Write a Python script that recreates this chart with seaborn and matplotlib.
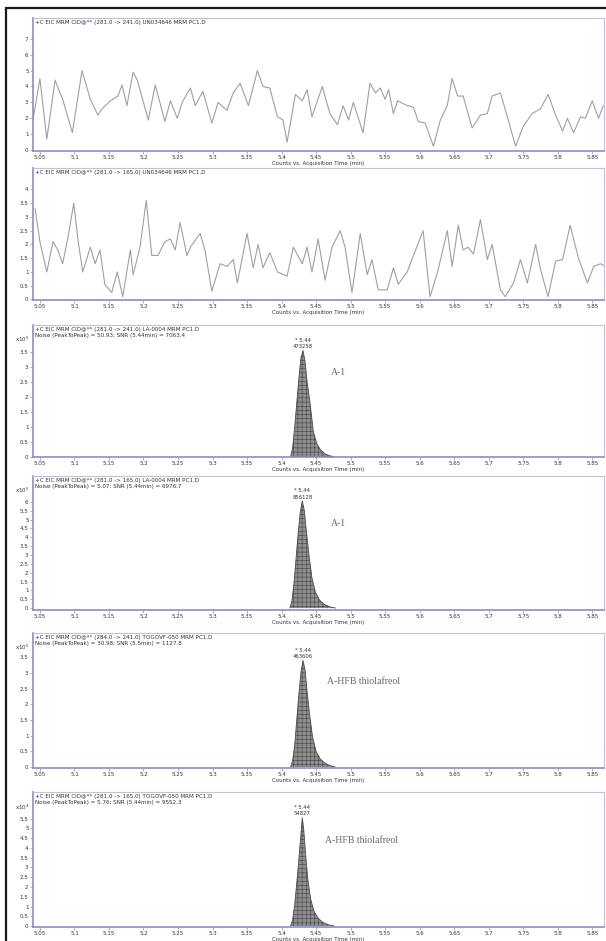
import numpy as np
import matplotlib
matplotlib.use("Agg")
import matplotlib.pyplot as plt
from matplotlib.patches import Rectangle
import seaborn as sns

# ── data: noise traces (retention time, counts) ─────────────────
NOISE1_T = [5.040, 5.050, 5.060, 5.072, 5.079, 5.083, 5.097, 5.111, 5.123, 5.134,
            5.140, 5.152, 5.163, 5.169, 5.176, 5.185, 5.191, 5.207, 5.217, 5.231,
            5.239, 5.249, 5.256, 5.268, 5.275, 5.286, 5.299, 5.308, 5.321, 5.330,
            5.340, 5.352, 5.365, 5.373, 5.383, 5.394, 5.402, 5.408, 5.412, 5.420,
            5.430, 5.437, 5.444, 5.459, 5.470, 5.481, 5.489, 5.497, 5.504, 5.518,
            5.528, 5.536, 5.543, 5.550, 5.555, 5.562, 5.568, 5.582, 5.591, 5.598,
            5.608, 5.620, 5.630, 5.640, 5.647, 5.655, 5.663, 5.676, 5.688, 5.698,
            5.705, 5.717, 5.727, 5.739, 5.750, 5.763, 5.775, 5.786, 5.797, 5.807,
            5.814, 5.823, 5.833, 5.840, 5.850, 5.859, 5.866]
NOISE1_Y = [1.9, 4.5, 0.7, 4.4, 3.6, 3.2, 1.1, 5.0, 3.2, 2.2,
            2.6, 3.1, 3.4, 4.1, 2.8, 4.9, 4.4, 1.9, 4.1, 1.8,
            3.1, 2.0, 3.0, 3.9, 2.8, 3.7, 1.7, 3.0, 2.5, 3.6,
            4.2, 2.8, 5.0, 4.0, 3.9, 2.1, 1.9, 0.5, 1.5, 3.5,
            3.1, 3.8, 2.1, 4.0, 2.3, 1.6, 2.8, 1.9, 3.0, 1.1,
            4.2, 3.6, 3.9, 3.2, 3.8, 2.3, 3.1, 2.8, 2.7, 1.8,
            1.7, 0.25, 1.9, 2.8, 4.5, 3.4, 3.4, 1.4, 2.2, 2.3,
            3.4, 3.6, 2.1, 0.25, 1.5, 2.3, 2.6, 3.5, 2.2, 1.2,
            2.0, 1.1, 2.1, 2.0, 3.1, 2.0, 2.8]

NOISE2_T = [5.043, 5.050, 5.060, 5.069, 5.076, 5.083, 5.091, 5.099, 5.105, 5.112,
            5.123, 5.130, 5.137, 5.144, 5.154, 5.162, 5.170, 5.181, 5.185, 5.195,
            5.204, 5.212, 5.221, 5.231, 5.239, 5.246, 5.253, 5.263, 5.268, 5.282,
            5.289, 5.299, 5.311, 5.321, 5.330, 5.336, 5.350, 5.359, 5.366, 5.373,
            5.383, 5.394, 5.408, 5.417, 5.430, 5.437, 5.444, 5.453, 5.463, 5.473,
            5.485, 5.492, 5.502, 5.514, 5.524, 5.531, 5.540, 5.553, 5.562, 5.569,
            5.582, 5.591, 5.605, 5.615, 5.626, 5.640, 5.647, 5.656, 5.663, 5.670,
            5.678, 5.688, 5.698, 5.705, 5.717, 5.724, 5.736, 5.746, 5.756, 5.768,
            5.775, 5.786, 5.797, 5.807, 5.818, 5.830, 5.843, 5.852, 5.862, 5.869]
NOISE2_Y = [3.3, 2.1, 1.0, 2.1, 1.8, 1.3, 2.3, 3.5, 2.2, 1.0,
            1.9, 1.3, 1.8, 0.55, 0.25, 1.0, 0.1, 1.8, 0.9, 1.9,
            3.6, 1.6, 1.6, 2.1, 2.2, 1.8, 2.8, 1.6, 1.9, 2.4,
            1.8, 0.3, 1.3, 1.2, 1.45, 0.6, 2.4, 1.15, 2.0, 1.15,
            1.7, 1.0, 0.85, 1.9, 1.3, 1.9, 1.0, 2.2, 0.7, 1.9,
            2.5, 1.9, 0.25, 2.4, 0.9, 1.45, 0.35, 0.35, 1.15, 0.55,
            1.0, 1.6, 2.5, 0.1, 1.0, 2.5, 1.2, 2.7, 1.8, 1.9,
            1.65, 2.9, 1.45, 2.0, 0.35, 0.1, 0.6, 1.45, 0.6, 2.0,
            1.1, 0.1, 1.4, 1.45, 2.7, 1.5, 0.6, 1.2, 1.3, 1.2]

# ── data: integrated peaks ──────────────────────────────────────
PEAK3_T = [5.413, 5.416, 5.419, 5.422, 5.425, 5.428, 5.431, 5.434,
           5.437, 5.441, 5.446, 5.451, 5.456, 5.463, 5.470, 5.477]
PEAK3_Y = [0, 0.3, 1.0, 1.8, 2.6, 3.3, 3.55, 3.2,
           2.5, 1.85, 0.85, 0.45, 0.25, 0.1, 0.04, 0]

PEAK4_T = [5.412, 5.415, 5.418, 5.421, 5.424, 5.427, 5.430, 5.433,
           5.436, 5.440, 5.444, 5.449, 5.455, 5.462, 5.470, 5.478]
PEAK4_Y = [0, 0.4, 1.4, 2.8, 4.2, 5.4, 6.05, 5.5,
           4.3, 2.9, 1.7, 0.9, 0.45, 0.2, 0.07, 0]

PEAK5_T = [5.413, 5.416, 5.419, 5.422, 5.425, 5.428, 5.431, 5.434,
           5.437, 5.441, 5.445, 5.450, 5.456, 5.463, 5.470, 5.478]
PEAK5_Y = [0, 0.2, 0.7, 1.5, 2.3, 3.0, 3.4, 3.1,
           2.4, 1.6, 0.95, 0.5, 0.26, 0.12, 0.05, 0]

PEAK6_T = [5.413, 5.416, 5.419, 5.422, 5.425, 5.428, 5.430, 5.432,
           5.435, 5.438, 5.442, 5.447, 5.453, 5.460, 5.468, 5.476]
PEAK6_Y = [0, 0.3, 1.1, 2.2, 3.4, 4.7, 5.55, 5.0,
           3.6, 2.4, 1.4, 0.75, 0.4, 0.18, 0.06, 0]

# ── labels ──────────────────────────────────────────────────────
X_TICKS = [5.05, 5.1, 5.15, 5.2, 5.25, 5.3, 5.35, 5.4, 5.45,
           5.5, 5.55, 5.6, 5.65, 5.7, 5.75, 5.8, 5.85]
X_LABEL = "Counts vs. Acquisition Time (min)"

HEADERS = [
    "+C EIC MRM CID@** (281.0 -> 241.0) UN034646 MRM PC1.D",
    "+C EIC MRM CID@** (281.0 -> 165.0) UN034646 MRM PC1.D",
    "+C EIC MRM CID@** (281.0 -> 241.0) LA-0004 MRM PC1.D\n"
    "Noise (PeakToPeak) = 50.93; SNR (5.44min) = 7063.4",
    "+C EIC MRM CID@** (281.0 -> 165.0) LA-0004 MRM PC1.D\n"
    "Noise (PeakToPeak) = 5.07; SNR (5.44min) = 6976.7",
    "+C EIC MRM CID@** (284.0 -> 241.0) TOGOVF-050 MRM PC1.D\n"
    "Noise (PeakToPeak) = 30.98; SNR (5.5min) = 1127.8",
    "+C EIC MRM CID@** (281.0 -> 165.0) TOGOVF-050 MRM PC1.D\n"
    "Noise (PeakToPeak) = 5.76; SNR (5.44min) = 9552.3",
]
MULTIPLIERS = [None, None, "x10$^5$", "x10$^5$", "x10$^5$", "x10$^4$"]
Y_TICKS = [
    [0, 1, 2, 3, 4, 5, 6, 7],
    [0, 0.5, 1, 1.5, 2, 2.5, 3, 3.5, 4],
    [0, 0.5, 1, 1.5, 2, 2.5, 3, 3.5],
    [0, 0.5, 1, 1.5, 2, 2.5, 3, 3.5, 4, 4.5, 5, 5.5, 6],
    [0, 0.5, 1, 1.5, 2, 2.5, 3, 3.5],
    [0, 0.5, 1, 1.5, 2, 2.5, 3, 3.5, 4, 4.5, 5, 5.5],
]
Y_LIMS = [(-0.05, 8.3), (-0.02, 4.78), (0, 4.4), (-0.11, 7.46), (-0.03, 4.27), (-0.05, 6.87)]
PEAK_RT = "* 5.44"
PEAK_AREA = ["473258", "856128", "463606", "54827"]
COMPOUNDS = ["A-1", "A-1", "A-HFB thiolafreol", "A-HFB thiolafreol"]
COMPOUND_POS = [(5.472, 2.83), (5.472, 4.8), (5.466, 2.74), (5.463, 4.36)]

# ── figure layout (px: top, bottom of each panel) ───────────────
W, H = 606, 941
PANELS_PX = [(18, 151), (168, 300), (325, 457), (476, 610), (633, 768), (792, 927)]
LEFT_PX, RIGHT_PX = 33, 604

sns.set_theme(style="white")
plt.rcParams["font.family"] = ["DejaVu Sans"]
plt.rcParams["hatch.linewidth"] = 0.35

SPINE = "#8c8cc8"
TEXT = "#333333"

fig = plt.figure(figsize=(W / 100, H / 100), dpi=100)

noise = [(NOISE1_T, NOISE1_Y), (NOISE2_T, NOISE2_Y)]
peaks = [(PEAK3_T, PEAK3_Y), (PEAK4_T, PEAK4_Y), (PEAK5_T, PEAK5_Y), (PEAK6_T, PEAK6_Y)]

for i, (top, bot) in enumerate(PANELS_PX):
    ax = fig.add_axes([LEFT_PX / W, 1 - bot / H,
                       (RIGHT_PX - LEFT_PX) / W, (bot - top) / H])

    if i < 2:
        t, y = noise[i]
        sns.lineplot(x=t, y=y, ax=ax, color="#a0a0a0", linewidth=0.8,
                     estimator=None, sort=False)
    else:
        t, y = peaks[i - 2]
        t = np.asarray(t)
        y = np.asarray(y)
        ax.fill_between(t, 0, y, facecolor="#8e8e8e", edgecolor="#3c3c3c",
                        hatch="++++", linewidth=0)
        sns.lineplot(x=t, y=y, ax=ax, color="#4a4a4a", linewidth=0.6,
                     estimator=None, sort=False)
        k = int(np.argmax(y))
        ax.annotate(PEAK_RT, (t[k], y[k]), xytext=(0, 5.5),
                    textcoords="offset points", ha="center", va="bottom",
                    fontsize=3.8, color=TEXT)
        ax.annotate(PEAK_AREA[i - 2], (t[k], y[k]), xytext=(0, 1),
                    textcoords="offset points", ha="center", va="bottom",
                    fontsize=3.8, color=TEXT)
        cx, cy = COMPOUND_POS[i - 2]
        ax.text(cx, cy, COMPOUNDS[i - 2], fontsize=7, color="#666666",
                family=["Liberation Serif", "DejaVu Serif"], va="center")

    ax.set_xlim(5.04, 5.867)
    ax.set_ylim(*Y_LIMS[i])
    ax.set_xticks(X_TICKS)
    ax.set_xticklabels([f"{v:g}" for v in X_TICKS])
    ax.set_yticks(Y_TICKS[i])
    ax.set_yticklabels([f"{v:g}" for v in Y_TICKS[i]])
    ax.tick_params(axis="both", labelsize=4, colors=TEXT, length=2,
                   width=0.5, pad=1.2, direction="out",
                   bottom=True, left=True)
    ax.tick_params(axis="both", color=SPINE)
    ax.set_xlabel(X_LABEL, fontsize=4, color=TEXT, labelpad=0.5)
    ax.set_ylabel("")
    ax.grid(False)
    for side, sp in ax.spines.items():
        sp.set_visible(True)
        sp.set_color(SPINE if side in ("left", "bottom") else "#c0c0e0")
        sp.set_linewidth(1.2 if side in ("left", "bottom") else 0.8)

    ax.text(0.004, 0.985, HEADERS[i], transform=ax.transAxes, ha="left",
            va="top", fontsize=4.1, color=TEXT, linespacing=1.15)
    if MULTIPLIERS[i]:
        ax.text(-0.006, 0.89, MULTIPLIERS[i], transform=ax.transAxes,
                ha="right", va="center", fontsize=4, color=TEXT)

# outer black frame of the scanned page
fig.add_artist(Rectangle((6 / W, -0.05), 1.2, 1 - 8 / H + 0.05,
                         transform=fig.transFigure, fill=False,
                         edgecolor="#1a1a1a", linewidth=1.6))

fig.savefig("out.png", dpi=100)
plt.close(fig)
